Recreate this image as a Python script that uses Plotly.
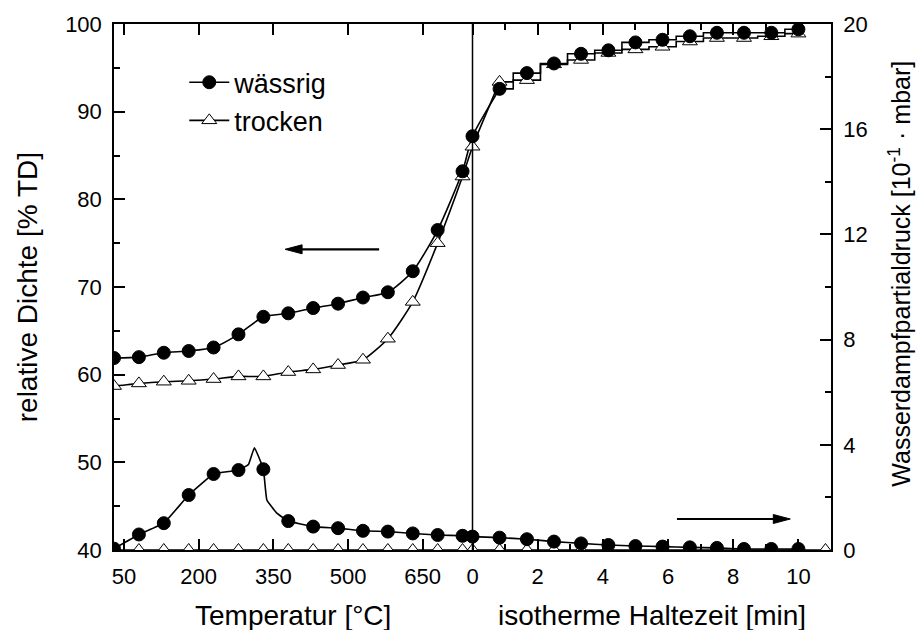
import plotly.graph_objects as go

# ---------------- data ----------------
temp_C = [30, 80, 130, 180, 230, 280, 330, 380, 430, 480, 530, 580, 630, 680, 730]
time_min = [0, 0.83, 1.67, 2.5, 3.33, 4.17, 5.0, 5.83, 6.67, 7.5, 8.33, 9.17, 10.0]

dens_wet_T = [61.9, 62.0, 62.5, 62.7, 63.1, 64.6, 66.6, 67.0, 67.6, 68.1, 68.8, 69.4, 71.8, 76.5, 83.2]
dens_wet_t = [87.2, 92.6, 94.4, 95.5, 96.6, 97.0, 97.9, 98.2, 98.6, 99.0, 99.0, 99.0, 99.4]
dens_dry_T = [58.7, 59.0, 59.2, 59.3, 59.5, 59.8, 59.8, 60.3, 60.6, 61.1, 61.7, 64.1, 68.3, 75.0, 82.6]
dens_dry_t = [86.0, 93.4, 93.6, 95.4, 95.9, 96.7, 97.1, 97.4, 98.0, 98.4, 98.4, 98.6, 98.9]

pres_wet_T = [0.05, 0.59, 1.02, 2.09, 2.89, 3.04, 3.07, 1.10, 0.89, 0.83, 0.73, 0.70, 0.63, 0.57, 0.54]
pres_wet_t = [0.51, 0.47, 0.41, 0.32, 0.25, 0.19, 0.15, 0.13, 0.10, 0.08, 0.04, 0.04, 0.04]
# additional line points of the wet pressure curve (no markers)
pres_wet_extra_T = [300, 312, 337, 357]
pres_wet_extra_p = [3.25, 3.89, 1.90, 1.40]

time_dry_p = [0, 0.83, 1.67, 2.5, 3.33, 4.17, 5.0, 5.83, 6.67, 7.5, 8.33, 9.17, 10.0, 10.83]
pres_dry_T = [0.0] * 15
pres_dry_t = [0.0] * 14

temp_ticks = [50, 200, 350, 500, 650]
time_ticks = [0, 2, 4, 6, 8, 10]
time_minor = [1, 3, 5, 7, 9]

# ---------------- broken x scale: temperature | time ----------------
T_MIN, T_END = 30, 750
TIME_SPAN = 11.0
U_MAX = T_END + (T_END - T_MIN)


def u_T(T):
    return T


def u_t(t):
    return T_END + t * (U_MAX - T_END) / TIME_SPAN


uT = [u_T(v) for v in temp_C]
ut = [u_t(v) for v in time_min]

FONT = "Liberation Sans, Arial, sans-serif"
LW = 1.6

fig = go.Figure()

# density lines
fig.add_trace(go.Scatter(x=uT + ut[:2], y=dens_wet_T + dens_wet_t[:2], mode="lines",
                         line=dict(color="black", width=LW, shape="spline", smoothing=0.6),
                         showlegend=False, yaxis="y"))
fig.add_trace(go.Scatter(x=ut[1:], y=dens_wet_t[1:], mode="lines",
                         line=dict(color="black", width=LW, shape="hvh"),
                         showlegend=False, yaxis="y"))
fig.add_trace(go.Scatter(x=uT + ut[:2], y=dens_dry_T + dens_dry_t[:2], mode="lines",
                         line=dict(color="black", width=LW, shape="spline", smoothing=0.6),
                         showlegend=False, yaxis="y"))
fig.add_trace(go.Scatter(x=ut[1:], y=dens_dry_t[1:], mode="lines",
                         line=dict(color="black", width=LW, shape="hvh"),
                         showlegend=False, yaxis="y"))

# pressure lines
pw = sorted(list(zip(uT, pres_wet_T)) + list(zip([u_T(v) for v in pres_wet_extra_T], pres_wet_extra_p)))
pw_x = [a for a, b in pw] + ut
pw_y = [b for a, b in pw] + pres_wet_t
fig.add_trace(go.Scatter(x=pw_x, y=pw_y, mode="lines",
                         line=dict(color="black", width=LW, shape="spline", smoothing=0.3),
                         showlegend=False, yaxis="y2"))
ud = [u_t(v) for v in time_dry_p]
fig.add_trace(go.Scatter(x=uT + ud, y=pres_dry_T + pres_dry_t, mode="lines",
                         line=dict(color="black", width=LW),
                         showlegend=False, yaxis="y2"))

# markers
circ = dict(symbol="circle", size=13, color="black", line=dict(color="black", width=1))
tri = dict(symbol="triangle-up", size=13, color="white", line=dict(color="black", width=1))
fig.add_trace(go.Scatter(x=uT + ud, y=pres_dry_T + pres_dry_t, mode="markers", marker=tri,
                         showlegend=False, yaxis="y2"))
fig.add_trace(go.Scatter(x=uT + ut, y=pres_wet_T + pres_wet_t, mode="markers", marker=circ,
                         showlegend=False, yaxis="y2"))
fig.add_trace(go.Scatter(x=uT + ut, y=dens_dry_T + dens_dry_t, mode="markers", marker=tri,
                         showlegend=False, yaxis="y"))
fig.add_trace(go.Scatter(x=uT + ut, y=dens_wet_T + dens_wet_t, mode="markers", marker=circ,
                         showlegend=False, yaxis="y"))

# legend entries
fig.add_trace(go.Scatter(x=[None], y=[None], mode="lines+markers", name="wässrig",
                         marker=circ, line=dict(color="black", width=LW), legendgroup="a"))
fig.add_trace(go.Scatter(x=[None], y=[None], mode="lines+markers", name="trocken",
                         marker=tri, line=dict(color="black", width=LW), legendgroup="b"))

tick_font = dict(family=FONT, size=22, color="black")

fig.update_layout(
    width=916, height=630,
    margin=dict(l=114, r=85, t=24, b=80),
    paper_bgcolor="white", plot_bgcolor="white",
    font=dict(family=FONT, size=22, color="black"),
    showlegend=True,
    legend=dict(x=0.098, y=0.935, xanchor="left", yanchor="top",
                font=dict(family=FONT, size=27, color="black"),
                bgcolor="rgba(0,0,0,0)", tracegroupgap=0, itemwidth=40),
    xaxis=dict(
        range=[T_MIN, U_MAX], showgrid=False, zeroline=False,
        showline=True, linecolor="black", linewidth=1.5, mirror="ticks",
        ticks="inside", ticklen=11, tickwidth=1.5, tickcolor="black",
        tickmode="array",
        tickvals=[u_T(v) for v in temp_ticks] + [u_t(v) for v in time_ticks],
        ticktext=[str(v) for v in temp_ticks] + [str(v) for v in time_ticks],
        tickfont=tick_font, ticklabelstandoff=6,
        minor=dict(tickmode="array", tickvals=[u_t(v) for v in time_minor],
                   ticks="inside", ticklen=6, tickwidth=1.5, tickcolor="black", showgrid=False),
    ),
    yaxis=dict(
        range=[40, 100], showgrid=False, zeroline=False,
        showline=True, linecolor="black", linewidth=1.5,
        ticks="inside", ticklen=11, tickwidth=1.5, tickcolor="black",
        tickmode="array", tickvals=[40, 50, 60, 70, 80, 90, 100],
        tickfont=tick_font, ticklabelstandoff=6,
        minor=dict(tickmode="array", tickvals=[45, 55, 65, 75, 85, 95],
                   ticks="inside", ticklen=6, tickwidth=1.5, tickcolor="black", showgrid=False),
    ),
    yaxis2=dict(
        range=[0, 20], overlaying="y", side="right", showgrid=False, zeroline=False,
        showline=True, linecolor="black", linewidth=1.5,
        ticks="inside", ticklen=11, tickwidth=1.5, tickcolor="black",
        tickmode="array", tickvals=[0, 4, 8, 12, 16, 20],
        tickfont=tick_font, ticklabelstandoff=6,
        minor=dict(tickmode="array", tickvals=[2, 6, 10, 14, 18],
                   ticks="inside", ticklen=6, tickwidth=1.5, tickcolor="black", showgrid=False),
    ),
)

# divider between heating and isothermal part
fig.add_shape(type="line", xref="x", yref="paper", x0=u_t(0), x1=u_t(0), y0=0, y1=1,
              line=dict(color="black", width=1.5))

# arrows indicating which axis each curve group belongs to (drawn as shapes)
arrow_line = dict(color="black", width=2.2)
fig.add_shape(type="line", xref="paper", yref="paper", x0=0.2609, x1=0.36975,
              y0=0.57167, y1=0.57167, line=arrow_line)
fig.add_shape(type="path", xref="paper", yref="paper",
              path="M 0.2386 0.57167 L 0.26232 0.58023 L 0.26232 0.56312 Z",
              fillcolor="black", line=dict(color="black", width=1))
fig.add_shape(type="line", xref="paper", yref="paper", x0=0.78513, x1=0.921,
              y0=0.05894, y1=0.05894, line=arrow_line)
fig.add_shape(type="path", xref="paper", yref="paper",
              path="M 0.94321 0.05894 L 0.9195 0.06749 L 0.9195 0.05038 Z",
              fillcolor="black", line=dict(color="black", width=1))

title_font = dict(family=FONT, size=28, color="black")
fig.add_annotation(text="Temperatur [°C]", xref="paper", yref="paper", x=0.25, y=-0.124,
                   showarrow=False, font=title_font, xanchor="center", yanchor="middle")
fig.add_annotation(text="isotherme Haltezeit [min]", xref="paper", yref="paper", x=0.75, y=-0.124,
                   showarrow=False, font=title_font, xanchor="center", yanchor="middle")
fig.add_annotation(text="relative Dichte [% TD]", xref="paper", yref="paper", x=-0.121, y=0.5,
                   showarrow=False, font=title_font, textangle=-90, xanchor="center", yanchor="middle")
fig.add_annotation(text="Wasserdampfpartialdruck [10<sup>-1</sup> · mbar]", xref="paper", yref="paper",
                   x=1.096, y=0.525, showarrow=False, font=dict(family=FONT, size=25, color="black"),
                   textangle=-90, xanchor="center", yanchor="middle")

fig.write_html("out.html")
